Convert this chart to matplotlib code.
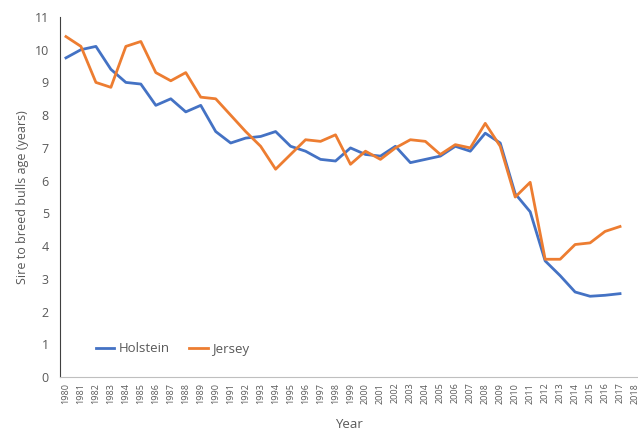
import matplotlib.pyplot as plt
import numpy as np

years = [str(y) for y in range(1980, 2019)]

holstein = [9.75, 10.0, 10.1, 9.4, 9.0, 8.95, 8.3, 8.5, 8.1, 8.3,
            7.5, 7.15, 7.3, 7.35, 7.5, 7.05, 6.9, 6.65, 6.6, 7.0,
            6.8, 6.75, 7.05, 6.55, 6.65, 6.75, 7.05, 6.9, 7.45, 7.15,
            5.6, 5.05, 3.55, 3.1, 2.6, 2.47, 2.5, 2.55]
jersey = [10.4, 10.1, 9.0, 8.85, 10.1, 10.25, 9.3, 9.05, 9.3, 8.55,
          8.5, 8.0, 7.5, 7.05, 6.35, 6.8, 7.25, 7.2, 7.4, 6.5,
          6.9, 6.65, 7.0, 7.25, 7.2, 6.8, 7.1, 7.0, 7.75, 7.05,
          5.5, 5.95, 3.6, 3.6, 4.05, 4.1, 4.45, 4.6]

grey = "#595959"
plt.rcParams["font.family"] = ["Open Sans", "DejaVu Sans"]

fig = plt.figure(figsize=(6.38, 4.34), dpi=100)
ax = fig.add_axes([0.094, 0.131, 0.906, 0.830])

x = np.arange(len(holstein))
ax.plot(x, holstein, color="#4472C4", lw=2, label="Holstein")
ax.plot(x, jersey, color="#ED7D31", lw=2, label="Jersey")

ax.set_xlim(-0.4, 38.2)
ax.set_ylim(0, 11)
ax.set_yticks(range(0, 12))
ax.set_xticks(np.arange(len(years)))
ax.set_xticklabels(years, rotation=90, fontsize=6.5, color=grey)
ax.tick_params(axis="y", labelsize=9, colors=grey, length=0, pad=8)
ax.tick_params(axis="x", length=0, pad=4)

for s in ["top", "right"]:
    ax.spines[s].set_visible(False)
ax.spines["left"].set_color("#404040")
ax.spines["bottom"].set_color("#bfbfbf")

ax.set_ylabel("Sire to breed bulls age (years)", fontsize=9, color=grey, labelpad=4)
ax.set_xlabel("Year", fontsize=9.5, color=grey, labelpad=10)

ax.legend(loc="center left", bbox_to_anchor=(84 / 638, (434 - 349) / 434),
          bbox_transform=fig.transFigure, ncol=2, frameon=False,
          handlelength=1.4, handletextpad=0.3, columnspacing=1.5,
          labelcolor=grey, fontsize=9.5)

fig.savefig("out.png", dpi=100)
